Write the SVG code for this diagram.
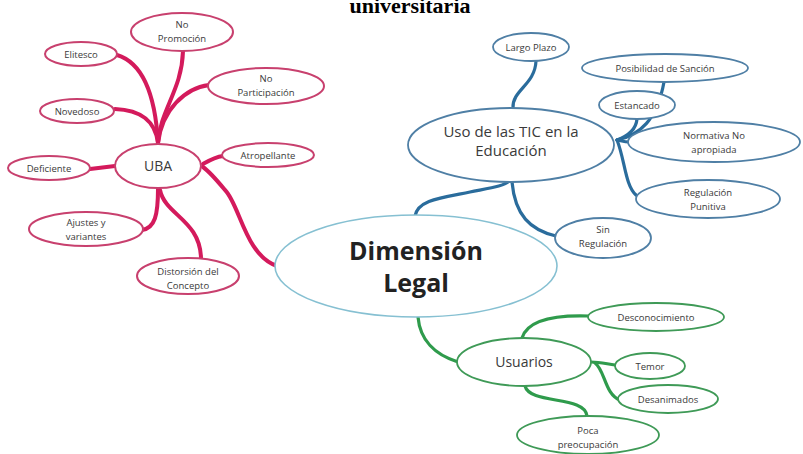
<svg xmlns="http://www.w3.org/2000/svg" width="803" height="454" viewBox="0 0 803 454">
<style>
text{font-family:"Open Sans","Liberation Sans",sans-serif;fill:#3a3a3a;text-anchor:middle}
.s{font-size:9.5px}
.m{font-size:14px}
.p{fill:#fff;stroke:#c8406e;stroke-width:2}
.b{fill:#fff;stroke:#4f7fa5;stroke-width:1.8}
.g{fill:#fff;stroke:#3f9a57;stroke-width:1.8}
.lp{fill:none;stroke:#d41a5c;stroke-width:4;stroke-linecap:round}
.lb{fill:none;stroke:#2a6c9c;stroke-width:3.2;stroke-linecap:round}
.lg{fill:none;stroke:#2f9b4c;stroke-width:3.2;stroke-linecap:round}
</style>
<rect width="803" height="454" fill="#fff"/>
<text x="410" y="13" style="font-family:'Liberation Serif',serif;font-weight:bold;font-size:22px;fill:#000">universitaria</text>
<g id="connectors">
<path class="lp" d="M277,266 C245,255 240,205 225,190 C215,178 210,172 203,167"/>
<path class="lp" d="M203,164 C210,160 215,157 223,156"/>
<path class="lp" d="M90,169 L115,166"/>
<path class="lp" d="M158,189 C158,215 155,228 142,230"/>
<path class="lp" d="M160,190 C165,215 200,220 201,258"/>
<path class="lp" d="M117,55 C140,62 155,90 158,143"/>
<path class="lp" d="M183,51 C182,90 160,110 158,143"/>
<path class="lp" d="M209,85 C185,88 162,110 158,143"/>
<path class="lp" d="M115,109 C140,110 155,120 158,143"/>
<path class="lb" d="M415,216 C418,200 440,198 470,192 C490,188 505,186 509,181"/>
<path class="lb" d="M512,182 C515,215 530,230 556,236"/>
<path class="lb" d="M536,61 C535,85 512,90 513,108"/>
<path class="lb" d="M617,140 C640,135 657,120 664,82"/>
<path class="lb" d="M617,140 C628,136 636,130 637,119"/>
<path class="lb" d="M617,140 C622,141 625,142 629,142"/>
<path class="lb" d="M617,140 C625,160 625,185 636,195"/>
<path class="lg" d="M418,317 C420,340 435,355 458,362"/>
<path class="lg" d="M522,338 C528,318 560,315 589,316"/>
<path class="lg" d="M591,362 C600,362 607,364 615,365"/>
<path class="lg" d="M595,363 C605,370 605,395 620,400"/>
<path class="lg" d="M525,386 C530,405 585,395 587,416"/>
</g>
<g id="dimension"><ellipse cx="416" cy="266" rx="141" ry="51" fill="#fff" stroke="#86c0d2" stroke-width="1.6"/><text x="416" y="260" style="font-size:25px;font-weight:bold;fill:#222">Dimensión</text><text x="416" y="292" style="font-size:25px;font-weight:bold;fill:#222">Legal</text></g>
<g id="uba"><ellipse class="p" cx="158" cy="166" rx="43" ry="22"/><text class="m" x="158" y="171">UBA</text></g>
<g id="deficiente"><ellipse class="p" cx="49" cy="168" rx="41" ry="12"/><text class="s" x="49" y="172">Deficiente</text></g>
<g id="atropellante"><ellipse class="p" cx="268" cy="155" rx="46" ry="12"/><text class="s" x="268" y="159">Atropellante</text></g>
<g id="ajustes"><ellipse class="p" cx="86" cy="229" rx="57" ry="17"/><text class="s" x="86" y="226">Ajustes y</text><text class="s" x="86" y="240">variantes</text></g>
<g id="distorsion"><ellipse class="p" cx="188" cy="276" rx="51" ry="18"/><text class="s" x="188" y="275">Distorsión del</text><text class="s" x="188" y="289">Concepto</text></g>
<g id="elitesco"><ellipse class="p" cx="81" cy="54" rx="36" ry="12"/><text class="s" x="81" y="58">Elitesco</text></g>
<g id="nopromocion"><ellipse class="p" cx="182" cy="32" rx="51" ry="19"/><text class="s" x="182" y="28">No</text><text class="s" x="182" y="42">Promoción</text></g>
<g id="novedoso"><ellipse class="p" cx="77" cy="111" rx="37" ry="12"/><text class="s" x="77" y="115">Novedoso</text></g>
<g id="noparticipacion"><ellipse class="p" cx="266" cy="86" rx="58" ry="18"/><text class="s" x="266" y="82">No</text><text class="s" x="266" y="96">Participación</text></g>
<g id="usotic"><ellipse class="b" cx="511" cy="145" rx="103" ry="37"/><text x="511" y="137" style="font-size:15px">Uso de las TIC en la</text><text x="511" y="156" style="font-size:15px">Educación</text></g>
<g id="largoplazo"><ellipse class="b" cx="531" cy="47" rx="38" ry="14"/><text class="s" x="531" y="51">Largo Plazo</text></g>
<g id="posibilidad"><ellipse class="b" cx="665" cy="68" rx="83" ry="14"/><text class="s" x="665" y="72">Posibilidad de Sanción</text></g>
<g id="estancado"><ellipse class="b" cx="637" cy="105" rx="38" ry="14"/><text class="s" x="637" y="109">Estancado</text></g>
<g id="normativa"><ellipse class="b" cx="714" cy="142" rx="86" ry="20"/><text class="s" x="714" y="139">Normativa No</text><text class="s" x="714" y="153">apropiada</text></g>
<g id="regulacion"><ellipse class="b" cx="708" cy="199" rx="72" ry="19"/><text class="s" x="708" y="196">Regulación</text><text class="s" x="708" y="210">Punitiva</text></g>
<g id="sinregulacion"><ellipse class="b" cx="603" cy="238" rx="48" ry="20"/><text class="s" x="603" y="233">Sin</text><text class="s" x="603" y="247">Regulación</text></g>
<g id="usuarios"><ellipse class="g" cx="524" cy="362" rx="67" ry="24"/><text class="m" x="524" y="367">Usuarios</text></g>
<g id="desconocimiento"><ellipse class="g" cx="656" cy="317" rx="68" ry="14"/><text class="s" x="656" y="321">Desconocimiento</text></g>
<g id="temor"><ellipse class="g" cx="650" cy="366" rx="35" ry="13"/><text class="s" x="650" y="370">Temor</text></g>
<g id="desanimados"><ellipse class="g" cx="668" cy="399" rx="50" ry="14"/><text class="s" x="668" y="403">Desanimados</text></g>
<g id="poca"><ellipse class="g" cx="588" cy="435" rx="71" ry="19"/><text class="s" x="588" y="434">Poca</text><text class="s" x="588" y="448">preocupación</text></g>
</svg>
